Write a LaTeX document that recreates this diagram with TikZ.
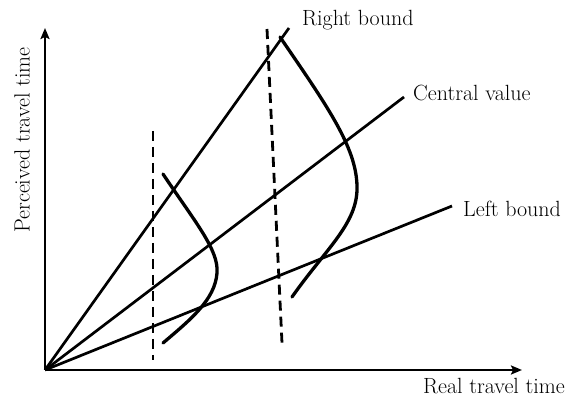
\documentclass[tikz,border=0pt]{standalone}
\usetikzlibrary{arrows.meta}
\begin{document}
\begin{tikzpicture}[x=1pt,y=-1pt,
  axis/.style={line width=2.8pt,-{Stealth[length=11pt,width=9pt,inset=2pt]}},
  ray/.style={line width=2.7pt},
  bell/.style={line width=3.3pt,line cap=round},
  vdash/.style={line width=2.8pt,dash pattern=on 10pt off 6pt},
  lbl/.style={font=\fontsize{22}{25}\selectfont,inner sep=0pt}]
\useasboundingbox (0,0) rectangle (571,398);
\coordinate (O) at (45,370);
\coordinate (ytop) at (45,28);
\coordinate (xend) at (522,370);
\draw[axis] (O) -- (ytop);
\draw[axis] (O) -- (xend);
\node[lbl,rotate=90] (ylab) at (22,140) {Perceived travel time};
\node[lbl,anchor=south east] (xlab) at (565,394) {Real travel time};
\coordinate (rb) at (289,28);
\coordinate (cv) at (404,97);
\coordinate (lb) at (452,206);
\draw[ray] (O) -- (rb);
\draw[ray] (O) -- (cv);
\draw[ray] (O) -- (lb);
\node[lbl,anchor=west] (rbl) at (302,20) {Right bound};
\node[lbl,anchor=west] (cvl) at (413,93) {Central value};
\node[lbl,anchor=west] (lbl) at (463,209) {Left bound};
\coordinate (d1a) at (153,131);
\coordinate (d1b) at (153,360);
\coordinate (d2a) at (267,29);
\coordinate (d2b) at (282,343);
\draw[vdash] (d1a) -- (d1b);
\draw[vdash] (d2a) -- (d2b);
\draw[bell] (163,174) .. controls (195,222) and (219,250) .. (217,273) .. controls (215,300) and (190,320) .. (163,343);
\draw[bell] (280,37) .. controls (330,110) and (358,150) .. (357,190) .. controls (356,225) and (325,250) .. (292,297);
\end{tikzpicture}
\end{document}
